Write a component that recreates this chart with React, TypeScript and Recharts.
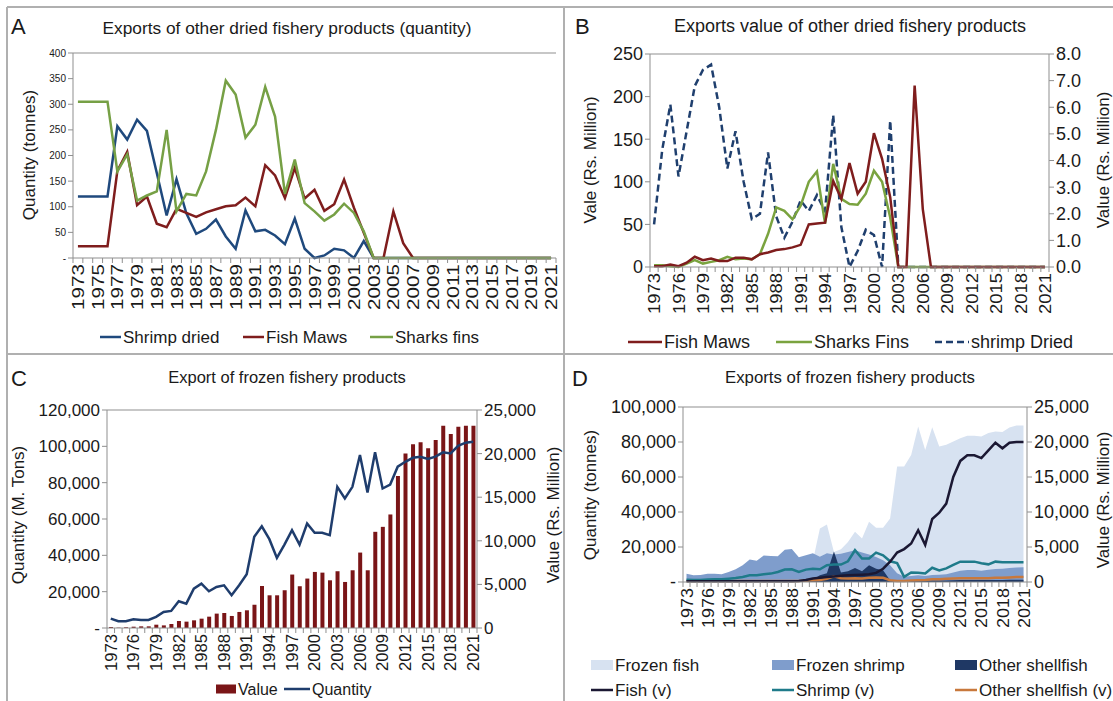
import React from 'react';
import { ComposedChart, Line, Bar, Area, XAxis, YAxis, ReferenceLine } from 'recharts';

const FONT = '"Liberation Sans", Arial, Helvetica, sans-serif';
const AXIS = '#8f8f8f';
const FRAME = '#b0b0b0';
const TXT = '#1a1a1a';

const years = [
  '1973', '1974', '1975', '1976', '1977', '1978', '1979', '1980', '1981', '1982',
  '1983', '1984', '1985', '1986', '1987', '1988', '1989', '1990', '1991', '1992',
  '1993', '1994', '1995', '1996', '1997', '1998', '1999', '2000', '2001', '2002',
  '2003', '2004', '2005', '2006', '2007', '2008', '2009', '2010', '2011', '2012',
  '2013', '2014', '2015', '2016', '2017', '2018', '2019', '2020', '2021',
];

// A - dried products, quantity (tonnes)
const shrimpDriedQty = [
  120, 120, 120, 120, 257, 231, 270, 248, 166, 83,
  154, 87, 47, 57, 75, 42, 18, 93, 52, 55,
  44, 27, 77, 18, 0, 5, 18, 15, 0, 33,
  0, 0, 0, 0, 0, 0, 0, 0, 0, 0,
  0, 0, 0, 0, 0, 0, 0, 0, 0,
];
const fishMawsQty = [
  23, 23, 23, 23, 170, 207, 103, 120, 67, 60,
  96, 88, 80, 89, 95, 101, 103, 118, 101, 181,
  161, 117, 176, 116, 133, 92, 105, 153, 98, 49,
  0, 0, 91, 29, 0, 0, 0, 0, 0, 0,
  0, 0, 0, 0, 0, 0, 0, 0, 0,
];
const sharksFinsQty = [
  305, 305, 305, 305, 169, 202, 112, 122, 130, 250,
  91, 125, 122, 169, 250, 346, 319, 235, 260, 334,
  276, 125, 192, 107, 91, 73, 85, 106, 88, 52,
  0, 0, 0, 0, 0, 0, 0, 0, 0, 0,
  0, 0, 0, 0, 0, 0, 0, 0, 0,
];

// B - dried products, value
const fishMawsVal = [
  1, 1, 3, 1, 5, 12, 8, 10, 7, 7,
  11, 11, 9, 15, 17, 20, 21, 23, 26, 50,
  51, 52, 101, 80, 122, 86, 100, 157, 127, 82,
  0, 0, 213, 68, 0, 0, 0, 0, 0, 0,
  0, 0, 0, 0, 0, 0, 0, 0, 0,
];
const sharksFinsVal = [
  2, 2, 1, 0, 4, 8, 4, 6, 8, 12,
  9, 10, 9, 15, 39, 70, 66, 56, 72, 100,
  112, 51, 121, 80, 74, 73, 86, 113, 100, 58,
  0, 0, 0, 0, 0, 0, 0, 0, 0, 0,
  0, 0, 0, 0, 0, 0, 0, 0, 0,
];
const shrimpDriedVal = [
  1.6, 4.4, 6.1, 3.4, 5.1, 6.8, 7.4, 7.6, 6.0, 3.7,
  5.1, 3.2, 1.8, 2.0, 4.3, 1.9, 1.1, 1.7, 2.5, 2.1,
  2.7, 2.1, 5.7, 1.5, 0, 0.6, 1.4, 1.2, 0, 5.5,
  0, 0, 0, 0, 0, 0, 0, 0, 0, 0,
  0, 0, 0, 0, 0, 0, 0, 0, 0,
];

// C - frozen products, value and quantity
const frozenValue = [
  115, 40, 75, 150, 190, 190, 380, 300, 460, 800,
  730, 880, 1070, 1300, 1650, 1720, 1380, 1840, 2030, 2680,
  4820, 3750, 3750, 4330, 6130, 4790, 5670, 6430, 6350, 5470,
  6510, 5280, 6620, 8650, 6620, 11030, 11600, 13020, 17420, 20020,
  21060, 21290, 20600, 21550, 23200, 22240, 23090, 23200, 23200,
];
const frozenQty = [
  5150, 3700, 3700, 4800, 4400, 4400, 6100, 8800, 9400, 14700,
  13400, 21700, 24400, 20200, 22600, 23500, 18000, 23500, 29600, 50200,
  56000, 48900, 38600, 45900, 53800, 45900, 57500, 52400, 52400, 51100,
  77700, 71300, 77700, 95200, 74600, 96700, 76800, 79000, 88800, 91500,
  93700, 94300, 93000, 94300, 96700, 96100, 100300, 102000, 102500,
];

// D - frozen products by type (quantity areas, value lines)
const frozenFishQty = [
  0, 0, 0, 0, 0, 0, 0, 0, 0, 0,
  0, 0, 0, 0, 0, 0, 0, 0, 12000, 30600,
  32900, 17200, 18700, 22900, 28700, 24900, 34400, 31000, 31000, 36300,
  66000, 66000, 72600, 88900, 75500, 88500, 77400, 78400, 80300, 82200,
  83600, 83600, 83200, 85100, 86000, 85700, 88300, 89500, 89500,
];
const frozenShrimpQty = [
  4780, 3820, 4000, 4780, 4780, 4400, 5740, 7270, 9560, 12800,
  12200, 15100, 14900, 14700, 18500, 18900, 14100, 15300, 16400, 14500,
  16400, 15700, 16100, 17200, 18200, 16800, 15700, 14300, 12400, 9560,
  5000, 3000, 3500, 3800, 3500, 4000, 4200, 4500, 5500, 6500,
  6800, 6800, 6500, 7000, 7500, 7600, 8000, 8300, 8500,
];
const otherShellQty = [
  0, 0, 0, 0, 0, 0, 0, 0, 0, 0,
  0, 0, 0, 0, 0, 0, 0, 500, 1500, 3800,
  5000, 17500, 5500, 6100, 8000, 6100, 9600, 7600, 6700, 1000,
  300, 500, 600, 700, 700, 800, 800, 900, 1000, 1100,
  1100, 1100, 1100, 1200, 1200, 1200, 1300, 1300, 1300,
];
const fishV = [
  100, 100, 100, 100, 100, 100, 100, 100, 100, 100,
  100, 100, 100, 100, 100, 100, 150, 300, 500, 600,
  700, 800, 900, 950, 1000, 1050, 1100, 1300, 1900, 2900,
  4200, 4700, 5500, 7400, 5300, 9000, 9900, 11200, 15000, 17300,
  18100, 18100, 17700, 18800, 19900, 19100, 19900, 20000, 20000,
];
const shrimpV = [
  330, 300, 300, 350, 380, 400, 480, 570, 720, 960,
  960, 1100, 1200, 1430, 1770, 1820, 1430, 1770, 1900, 1820,
  2390, 2490, 2490, 2960, 4540, 3350, 3350, 4200, 3820, 2960,
  2700, 730, 1360, 1310, 1210, 2040, 1650, 1940, 2430, 2910,
  2910, 2910, 2670, 2520, 2910, 2820, 2820, 2820, 2820,
];
const otherShellV = [
  150, 150, 150, 150, 150, 150, 150, 150, 150, 150,
  150, 150, 150, 150, 150, 150, 150, 200, 250, 300,
  450, 800, 550, 500, 550, 500, 600, 650, 600, 250,
  150, 150, 200, 250, 300, 400, 400, 450, 500, 550,
  550, 550, 550, 550, 600, 600, 650, 700, 700,
];

const dataA = years.map((year, i) => ({ year, shrimp: shrimpDriedQty[i], maws: fishMawsQty[i], fins: sharksFinsQty[i] }));
const dataB = years.map((year, i) => ({ year, maws: fishMawsVal[i], fins: sharksFinsVal[i], shrimp: shrimpDriedVal[i] }));
const dataC = years.map((year, i) => ({ year, value: frozenValue[i], qty: frozenQty[i] }));
const dataD = years.map((year, i) => ({
  year, fish: frozenFishQty[i], shrimp: frozenShrimpQty[i], other: otherShellQty[i],
  fishV: fishV[i], shrimpV: shrimpV[i], otherV: otherShellV[i],
}));

const dashZero = (v: number) => (v === 0 ? '-' : v.toLocaleString('en-US'));

// category tick: tick marks between categories, label every n-th year
function CatTick(props: any) {
  const { x, y, payload, index, step, every, fs, count, len } = props;
  return (
    <g>
      <line x1={x - step / 2} y1={y} x2={x - step / 2} y2={y + 5} stroke={AXIS} />
      {index === count - 1 && <line x1={x + step / 2} y1={y} x2={x + step / 2} y2={y + 5} stroke={AXIS} />}
      {index % every === 0 && (
        <text
          transform={`translate(${x},${y + 6}) rotate(-90)`}
          dy="0.36em"
          textAnchor="end"
          fontSize={fs}
          fill={TXT}
          fontFamily={FONT}
          textLength={len}
          lengthAdjust="spacingAndGlyphs"
        >
          {payload.value}
        </text>
      )}
    </g>
  );
}

function PanelA() {
  return (
    <div style={{ position: 'absolute', left: 0, top: 0 }}>
      <ComposedChart width={563} height={320} data={dataA} margin={{ top: 53, right: 7, bottom: 0, left: 33 }}>
        <XAxis dataKey="year" scale="band" interval={0} tickSize={0} tickMargin={0} height={62} stroke={AXIS}
          tick={<CatTick step={483 / 49} every={2} fs={17} count={49} len={46} />} />
        <YAxis domain={[0, 400]} ticks={[0, 50, 100, 150, 200, 250, 300, 350, 400]} width={40} tickSize={5}
          stroke={AXIS} tick={{ fontSize: 10, fill: TXT, fontFamily: FONT }} tickFormatter={dashZero} />
        <ReferenceLine y={400} stroke={AXIS} />
        <Line dataKey="shrimp" stroke="#1f497d" strokeWidth={2.5} dot={false} isAnimationActive={false} />
        <Line dataKey="maws" stroke="#7f1d1d" strokeWidth={2.5} dot={false} isAnimationActive={false} />
        <Line dataKey="fins" stroke="#76a045" strokeWidth={2.5} dot={false} isAnimationActive={false} />
      </ComposedChart>
    </div>
  );
}

function PanelB() {
  return (
    <div style={{ position: 'absolute', left: 563, top: 0 }}>
      <ComposedChart width={550} height={327} data={dataB} margin={{ top: 54, right: 8, bottom: 0, left: 37 }}>
        <XAxis dataKey="year" scale="band" interval={0} tickSize={0} tickMargin={0} height={60} stroke={AXIS}
          tick={<CatTick step={399 / 49} every={3} fs={17} count={49} len={41} />} />
        <YAxis yAxisId="l" domain={[0, 250]} ticks={[0, 50, 100, 150, 200, 250]} width={50} tickSize={5}
          stroke={AXIS} tick={{ fontSize: 18, fill: TXT, fontFamily: FONT }} />
        <YAxis yAxisId="r" orientation="right" domain={[0, 8]} ticks={[0, 1, 2, 3, 4, 5, 6, 7, 8]} width={56}
          tickSize={5} stroke={AXIS} tick={{ fontSize: 18, fill: TXT, fontFamily: FONT }}
          tickFormatter={(v: number) => v.toFixed(1)} />
        <ReferenceLine yAxisId="l" y={250} stroke={AXIS} />
        <Line yAxisId="r" dataKey="shrimp" stroke="#1f3f6e" strokeWidth={2.5} strokeDasharray="7 4" dot={false} isAnimationActive={false} />
        <Line yAxisId="l" dataKey="fins" stroke="#7aa33f" strokeWidth={2.5} dot={false} isAnimationActive={false} />
        <Line yAxisId="l" dataKey="maws" stroke="#7f1d1d" strokeWidth={2.5} dot={false} isAnimationActive={false} />
      </ComposedChart>
    </div>
  );
}

function PanelC() {
  return (
    <div style={{ position: 'absolute', left: 0, top: 353 }}>
      <ComposedChart width={563} height={335} data={dataC} margin={{ top: 57, right: 20, bottom: 0, left: 25 }}>
        <XAxis dataKey="year" scale="band" interval={0} tickSize={0} tickMargin={0} height={60} stroke={AXIS}
          tick={<CatTick step={370 / 49} every={3} fs={16} count={49} len={37} />} />
        <YAxis yAxisId="l" domain={[0, 120000]} ticks={[0, 20000, 40000, 60000, 80000, 100000, 120000]} width={82}
          tickSize={5} stroke={AXIS} tick={{ fontSize: 17, fill: TXT, fontFamily: FONT }} tickFormatter={dashZero} />
        <YAxis yAxisId="r" orientation="right" domain={[0, 25000]} ticks={[0, 5000, 10000, 15000, 20000, 25000]}
          width={66} tickSize={5} stroke={AXIS} tick={{ fontSize: 17, fill: TXT, fontFamily: FONT }}
          tickFormatter={(v: number) => v.toLocaleString('en-US')} />
        <ReferenceLine yAxisId="l" y={120000} stroke={AXIS} />
        <Bar yAxisId="r" dataKey="value" fill="#7a1517" barSize={4} isAnimationActive={false} />
        <Line yAxisId="l" dataKey="qty" stroke="#1f3d6d" strokeWidth={2.5} dot={false} isAnimationActive={false} />
      </ComposedChart>
    </div>
  );
}

function PanelD() {
  return (
    <div style={{ position: 'absolute', left: 563, top: 353 }}>
      <ComposedChart width={550} height={289} data={dataD} margin={{ top: 54, right: 16, bottom: 0, left: 38 }}>
        <XAxis dataKey="year" scale="band" interval={0} tickSize={0} tickMargin={0} height={60} stroke={AXIS}
          tick={<CatTick step={344 / 49} every={3} fs={17} count={49} len={40} />} />
        <YAxis yAxisId="l" domain={[0, 100000]} ticks={[0, 20000, 40000, 60000, 80000, 100000]} width={82}
          tickSize={5} stroke={AXIS} tick={{ fontSize: 18, fill: TXT, fontFamily: FONT }} tickFormatter={dashZero} />
        <YAxis yAxisId="r" orientation="right" domain={[0, 25000]} ticks={[0, 5000, 10000, 15000, 20000, 25000]}
          width={70} tickSize={5} stroke={AXIS} tick={{ fontSize: 18, fill: TXT, fontFamily: FONT }}
          tickFormatter={(v: number) => v.toLocaleString('en-US')} />
        <ReferenceLine yAxisId="l" y={100000} stroke={AXIS} />
        <Area yAxisId="l" dataKey="fish" type="linear" fill="#d7e2f1" fillOpacity={1} stroke="none" isAnimationActive={false} />
        <Area yAxisId="l" dataKey="shrimp" type="linear" fill="#7f9dcc" fillOpacity={1} stroke="none" isAnimationActive={false} />
        <Area yAxisId="l" dataKey="other" type="linear" fill="#1f3864" fillOpacity={1} stroke="none" isAnimationActive={false} />
        <Line yAxisId="r" dataKey="otherV" stroke="#c8783c" strokeWidth={2.5} dot={false} isAnimationActive={false} />
        <Line yAxisId="r" dataKey="shrimpV" stroke="#1f7b8a" strokeWidth={2.5} dot={false} isAnimationActive={false} />
        <Line yAxisId="r" dataKey="fishV" stroke="#1b1833" strokeWidth={2.5} dot={false} isAnimationActive={false} />
      </ComposedChart>
    </div>
  );
}

function LineKey({ x, y, w, color, dash, label, fs }: any) {
  return (
    <g>
      <line x1={x} x2={x + w} y1={y} y2={y} stroke={color} strokeWidth={2.5} strokeDasharray={dash} />
      <text x={x + w + 2} y={y} dy="0.36em" fontSize={fs} fill={TXT}>{label}</text>
    </g>
  );
}

function BoxKey({ x, y, w, h, color, label, fs }: any) {
  return (
    <g>
      <rect x={x} y={y - h / 2} width={w} height={h} fill={color} />
      <text x={x + w + 2} y={y} dy="0.36em" fontSize={fs} fill={TXT}>{label}</text>
    </g>
  );
}

function VText({ cx, cy, fs, children }: any) {
  return (
    <text transform={`translate(${cx},${cy}) rotate(-90)`} dy="0.36em" textAnchor="middle" fontSize={fs} fill={TXT}>
      {children}
    </text>
  );
}

function Overlay() {
  return (
    <svg width={1113} height={701} style={{ position: 'absolute', left: 0, top: 0, pointerEvents: 'none' }}
      fontFamily={FONT}>
      <line x1={7} y1={7} x2={1113} y2={7} stroke={FRAME} strokeWidth={2} />
      <line x1={7} y1={7} x2={7} y2={701} stroke={FRAME} strokeWidth={2} />
      <line x1={564} y1={7} x2={564} y2={701} stroke={FRAME} strokeWidth={2} />
      <line x1={7} y1={354} x2={1113} y2={354} stroke={FRAME} strokeWidth={2} />

      <text x={11} y={34} fontSize={22} fill={TXT}>A</text>
      <text x={287} y={34} fontSize={17.3} textAnchor="middle" fill={TXT}>Exports of other dried fishery products (quantity)</text>
      <VText cx={29} cy={155} fs={17}>Quantity (tonnes)</VText>
      <LineKey x={100} y={337} w={21} color="#1f497d" label="Shrimp dried" fs={17} />
      <LineKey x={243} y={337} w={21} color="#7f1d1d" label="Fish Maws" fs={17} />
      <LineKey x={370} y={337} w={23} color="#76a045" label="Sharks fins" fs={17} />

      <text x={575} y={34} fontSize={22} fill={TXT}>B</text>
      <text x={850} y={32} fontSize={18} textAnchor="middle" fill={TXT}>Exports value of other dried fishery products</text>
      <VText cx={590} cy={160} fs={17}>Vale (Rs. Million)</VText>
      <VText cx={1103} cy={160} fs={17}>Value (Rs. Million)</VText>
      <LineKey x={628} y={342} w={34} color="#7f1d1d" label="Fish Maws" fs={18} />
      <LineKey x={776} y={342} w={36} color="#7aa33f" label="Sharks Fins" fs={18} />
      <LineKey x={935} y={342} w={34} color="#1f3f6e" dash="7 4" label="shrimp Dried" fs={18} />

      <text x={11} y={386} fontSize={22} fill={TXT}>C</text>
      <text x={287} y={383} fontSize={16.5} textAnchor="middle" fill={TXT}>Export of frozen fishery products</text>
      <VText cx={18} cy={515} fs={17}>Quantity (M. Tons)</VText>
      <VText cx={553} cy={515} fs={17}>Value (Rs. Million)</VText>
      <BoxKey x={216} y={689} w={20} h={9} color="#7a1517" label="Value" fs={16} />
      <LineKey x={284} y={689} w={26} color="#1f3d6d" label="Quantity" fs={16} />

      <text x={572} y={386} fontSize={22} fill={TXT}>D</text>
      <text x={850} y={383} fontSize={16.8} textAnchor="middle" fill={TXT}>Exports of frozen fishery products</text>
      <VText cx={590} cy={495} fs={17}>Quantity (tonnes)</VText>
      <VText cx={1103} cy={500} fs={17}>Value (Rs. Million)</VText>
      <BoxKey x={591} y={665} w={22} h={10} color="#d7e2f1" label="Frozen fish" fs={17} />
      <BoxKey x={772} y={665} w={22} h={10} color="#7f9dcc" label="Frozen shrimp" fs={17} />
      <BoxKey x={955} y={665} w={22} h={10} color="#1f3864" label="Other shellfish" fs={17} />
      <LineKey x={591} y={690} w={22} color="#1b1833" label="Fish (v)" fs={17} />
      <LineKey x={772} y={690} w={22} color="#1f7b8a" label="Shrimp (v)" fs={17} />
      <LineKey x={955} y={690} w={22} color="#c8783c" label="Other shellfish (v)" fs={17} />
    </svg>
  );
}

export default function App() {
  return (
    <div style={{ position: 'absolute', left: 0, top: 0, width: 1113, height: 701, background: '#fff', fontFamily: FONT, overflow: 'hidden' }}>
      <PanelA />
      <PanelB />
      <PanelC />
      <PanelD />
      <Overlay />
    </div>
  );
}
